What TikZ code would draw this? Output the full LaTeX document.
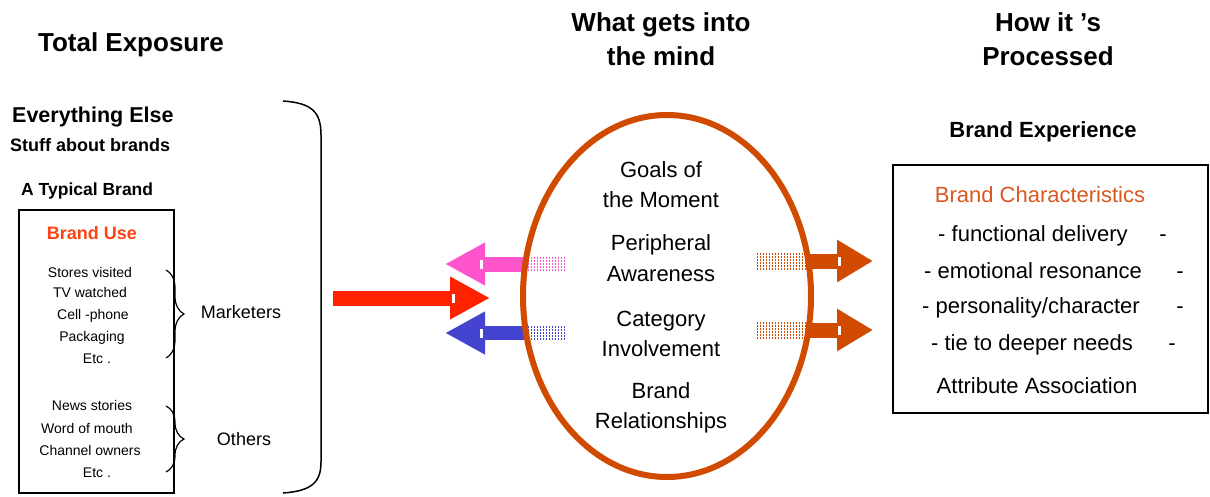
\documentclass[tikz,border=0pt]{standalone}
\usepackage{fontspec}
\setmainfont{Liberation Sans}
\usepackage{tikz}
\usetikzlibrary{arrows.meta}
\usetikzlibrary{shapes.geometric}
\usetikzlibrary{decorations.pathreplacing}
\usepackage{xcolor}

\definecolor{rust}{RGB}{208,74,0}
\definecolor{hotred}{RGB}{255,34,0}
\definecolor{pinkarrow}{RGB}{255,85,204}
\definecolor{bluearrow}{RGB}{68,68,208}
\definecolor{useorange}{RGB}{255,68,17}
\definecolor{charorange}{RGB}{216,88,30}

\tikzset{
  every node/.style={inner sep=0pt},
  title/.style={font=\bfseries\fontsize{26}{30}\selectfont, text height=18.5pt, text depth=0pt},
  boxhead/.style={font=\bfseries\fontsize{22}{26}\selectfont, text height=16pt, text depth=0pt},
  mindtext/.style={font=\fontsize{22}{26}\selectfont, text height=16pt, text depth=0pt},
  bighead/.style={font=\bfseries\fontsize{21.5}{25}\selectfont, text height=15pt, text depth=0pt, anchor=west},
  sidehead/.style={font=\bfseries\fontsize{18}{21}\selectfont, text height=13pt, text depth=0pt, anchor=west},
  smalltext/.style={font=\fontsize{14}{16}\selectfont, text height=10pt, text depth=0pt},
  grouptext/.style={font=\fontsize{18}{21}\selectfont, text height=13pt, text depth=0pt},
  blockarrow/.style={line width=15pt, -{Triangle[length=40pt,width=40pt]}},
  dotrow/.style={line width=1.3pt, dash pattern=on 1.4pt off 1.6pt},
  curly/.style={decorate, decoration={brace, amplitude=18pt}, line width=1.2pt}
}

\begin{document}
\begin{tikzpicture}[x=1pt,y=-1pt]
\fill[white] (0,0) rectangle (1210,497);
\useasboundingbox (0,0) rectangle (1210,497);

% column titles
\node[title] (tot) at (131,42) {Total Exposure};
\node[title] (what1) at (661,22) {What gets into};
\node[title] (what2) at (661,56) {the mind};
\node[title] (how1) at (1048,22) {How it 's};
\node[title] (how2) at (1048,56) {Processed};

% total exposure column
\node[bighead] (else) at (12,115) {Everything Else};
\node[sidehead] (stuff) at (10,145) {Stuff about brands};
\node[sidehead, font=\bfseries\fontsize{17.5}{20}\selectfont] (typ) at (21,189) {A Typical Brand};
\draw[line width=1.5pt] (19,210) rectangle (174,493);
\node[sidehead, anchor=center, useorange] (use) at (92,233) {Brand Use};
\foreach \x/\y/\t [count=\i] in {90/272/Stores visited, 90/292/TV watched, 93/314/Cell -phone,
    92/336/Packaging, 97/358/Etc ., 92/405/News stories, 87/428/Word of mouth,
    90/450/Channel owners, 97/472/Etc .}
  \node[smalltext] (src\i) at (\x,\y) {\t};
\draw[curly] (166,270) -- (166,358);
\draw[curly] (166,406) -- (166,472);
\node[grouptext] (mkt) at (241,312) {Marketers};
\node[grouptext] (oth) at (244,439) {Others};
\draw[line width=1.5pt] (283,101) .. controls (312,103) and (321,112) .. (321,135)
  -- (321,462) .. controls (321,482) and (312,491) .. (283,493);

% arrows in and out of the mind
\coordinate (redstart) at (333,298);
\coordinate (redend) at (490,298);
\coordinate (pinkstart) at (526,264);
\coordinate (pinkend) at (445,264);
\coordinate (bluestart) at (526,333);
\coordinate (blueend) at (445,333);
\coordinate (outAstart) at (806,261);
\coordinate (outAend) at (873,261);
\coordinate (outBstart) at (806,330);
\coordinate (outBend) at (873,330);
\draw[blockarrow, hotred] (redstart) -- (redend);
\draw[blockarrow, pinkarrow] (pinkstart) -- (pinkend);
\draw[blockarrow, bluearrow, line width=14pt] (bluestart) -- (blueend);
\draw[blockarrow, rust, -{Triangle[length=36pt,width=40pt]}] (outAstart) -- (outAend);
\draw[blockarrow, rust, -{Triangle[length=36pt,width=40pt]}] (outBstart) -- (outBend);
\foreach \x/\y in {453/298, 481/264, 481/333, 839/261, 839/330}
  \fill[white] (\x-1.5,\y-4.5) rectangle (\x+1.5,\y+4.5);
% dotted tails
\foreach \r in {0,...,4} {
  \draw[dotrow, pinkarrow] (522,258+3*\r) -- (566,258+3*\r);
  \draw[dotrow, bluearrow] (522,327+3*\r) -- (566,327+3*\r);
}
\foreach \r in {0,...,5} {
  \draw[dotrow, rust] (757,254+3*\r) -- (806,254+3*\r);
  \draw[dotrow, rust] (757,323+3*\r) -- (806,323+3*\r);
}

\node[draw=rust, ellipse, line width=6pt, minimum width=288pt, minimum height=362pt] (mind) at (667,296) {};
\foreach \y/\t [count=\i] in {170/Goals of, 200/the Moment, 243/Peripheral, 273/Awareness,
    318/Category, 348/Involvement, 390/Brand, 420/Relationships}
  \node[mindtext] (goal\i) at (661,\y) {\t};

% processed column
\node[boxhead] (exp) at (1043,130) {Brand Experience};
\draw[line width=1.5pt] (893,165) rectangle (1208,413);
\node[mindtext, charorange] (chars) at (1040,195) {Brand Characteristics};
\foreach \x/\y/\t/\d [count=\i] in {1033/233/{- functional delivery}/1163, 1033/270/{- emotional resonance}/1180,
    1031/305/{- personality/character}/1180, 1032/342/{- tie to deeper needs}/1172}
{
  \node[mindtext] (char\i) at (\x,\y) {\t};
  \node[mindtext] (dash\i) at (\d,\y) {-};
}
\node[mindtext] (attr) at (1037,385) {Attribute Association};

\end{tikzpicture}
\end{document}
